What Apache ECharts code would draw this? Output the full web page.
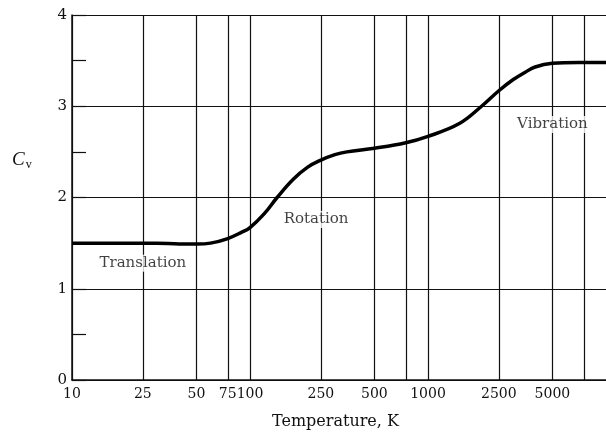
<!DOCTYPE html>
<html>
<head>
    <meta charset="UTF-8">
    <script src="https://cdn.jsdelivr.net/npm/echarts@6/dist/echarts.min.js"></script>
    <style>
        html, body { margin: 0; padding: 0; background: #fff; }
        #main { width: 606px; height: 443px; }
    </style>
</head>
<body>
<div id="main"></div>
<script type="text/javascript">
    // temperature (K) and heat capacity
    var temps = [10, 20, 30, 40, 50, 60, 75, 90, 100, 120, 142, 175, 210, 250, 300, 350, 500, 750, 1000, 1500, 2000, 2500, 3000, 3500, 4000, 5000, 7000, 10000];
    var cvValues = [1.5, 1.5, 1.5, 1.49, 1.49, 1.5, 1.55, 1.62, 1.67, 1.82, 2.0, 2.2, 2.33, 2.41, 2.47, 2.5, 2.54, 2.6, 2.67, 2.81, 3.0, 3.17, 3.29, 3.37, 3.43, 3.47, 3.48, 3.48];

    var xGridTicks = [10, 25, 50, 75, 100, 250, 500, 750, 1000, 2500, 5000, 7500];
    var xLabels = [10, 25, 50, 75, 100, 250, 500, 1000, 2500, 5000];
    var yLabels = [0, 1, 2, 3, 4];

    var regionNames = ['Translation', 'Rotation', 'Vibration'];
    var regionT = [25, 235, 5000];
    var regionCv = [1.28, 1.76, 2.8];

    var serif = '"DejaVu Serif", "Liberation Serif", serif';

    var lineData = [];
    for (var i = 0; i < temps.length; i++) {
        lineData.push([temps[i], cvValues[i]]);
    }
    var labelData = [];
    for (var j = 0; j < regionNames.length; j++) {
        labelData.push({name: regionNames[j], value: [regionT[j], regionCv[j]]});
    }

    var myChart = echarts.init(document.getElementById('main'));
    var option = {
        backgroundColor: '#fff',
        animation: false,
        grid: {left: 72, right: 0, top: 15, bottom: 63},
        xAxis: {
            type: 'log',
            min: 10,
            max: 10000,
            axisLine: {lineStyle: {color: '#111', width: 1.5}},
            axisTick: {show: false, customValues: xGridTicks},
            axisLabel: {
                customValues: xLabels,
                color: '#111',
                fontFamily: serif,
                fontSize: 14,
                margin: 7,
                formatter: function (v) {
                    return String(v);
                }
            },
            splitLine: {show: true, lineStyle: {color: '#111', width: 1.2}}
        },
        yAxis: [
            {
                type: 'value',
                min: 0,
                max: 4,
                interval: 0.5,
                axisLine: {show: true, lineStyle: {color: '#111', width: 1.5}},
                axisTick: {show: true, inside: true, length: 14, lineStyle: {color: '#111', width: 1.2}},
                axisLabel: {
                    color: '#111',
                    fontFamily: serif,
                    fontSize: 15,
                    margin: 5,
                    formatter: function (v) {
                        return yLabels.indexOf(v) >= 0 ? String(v) : '';
                    }
                },
                splitLine: {show: false}
            },
            {
                type: 'value',
                min: 0,
                max: 4,
                interval: 1,
                position: 'left',
                axisLine: {show: false},
                axisTick: {show: false},
                axisLabel: {show: false},
                splitLine: {show: true, lineStyle: {color: '#111', width: 1.2}}
            }
        ],
        graphic: [
            {
                type: 'text',
                left: 12,
                top: 150,
                style: {
                    text: '{c|C}{s|v}',
                    rich: {
                        c: {fontFamily: '"Liberation Serif", serif', fontStyle: 'italic', fontSize: 19, fill: '#111'},
                        s: {fontFamily: '"Liberation Serif", serif', fontSize: 12, fill: '#111', padding: [10, 0, 0, 1]}
                    }
                }
            },
            {
                type: 'text',
                left: 272,
                top: 414,
                style: {text: 'Temperature, K', fontFamily: serif, fontSize: 16, fill: '#111'}
            }
        ],
        series: [
            {
                type: 'line',
                data: lineData,
                smooth: 0.4,
                showSymbol: false,
                lineStyle: {color: '#000', width: 3.5},
                z: 5
            },
            {
                type: 'scatter',
                data: labelData,
                symbolSize: 0,
                label: {
                    show: true,
                    position: 'inside',
                    formatter: '{b}',
                    color: '#111',
                    fontFamily: serif,
                    fontSize: 15,
                    backgroundColor: '#fff',
                    padding: [1, 2]
                },
                z: 6
            }
        ]
    };
    myChart.setOption(option);
</script>
</body>
</html>
